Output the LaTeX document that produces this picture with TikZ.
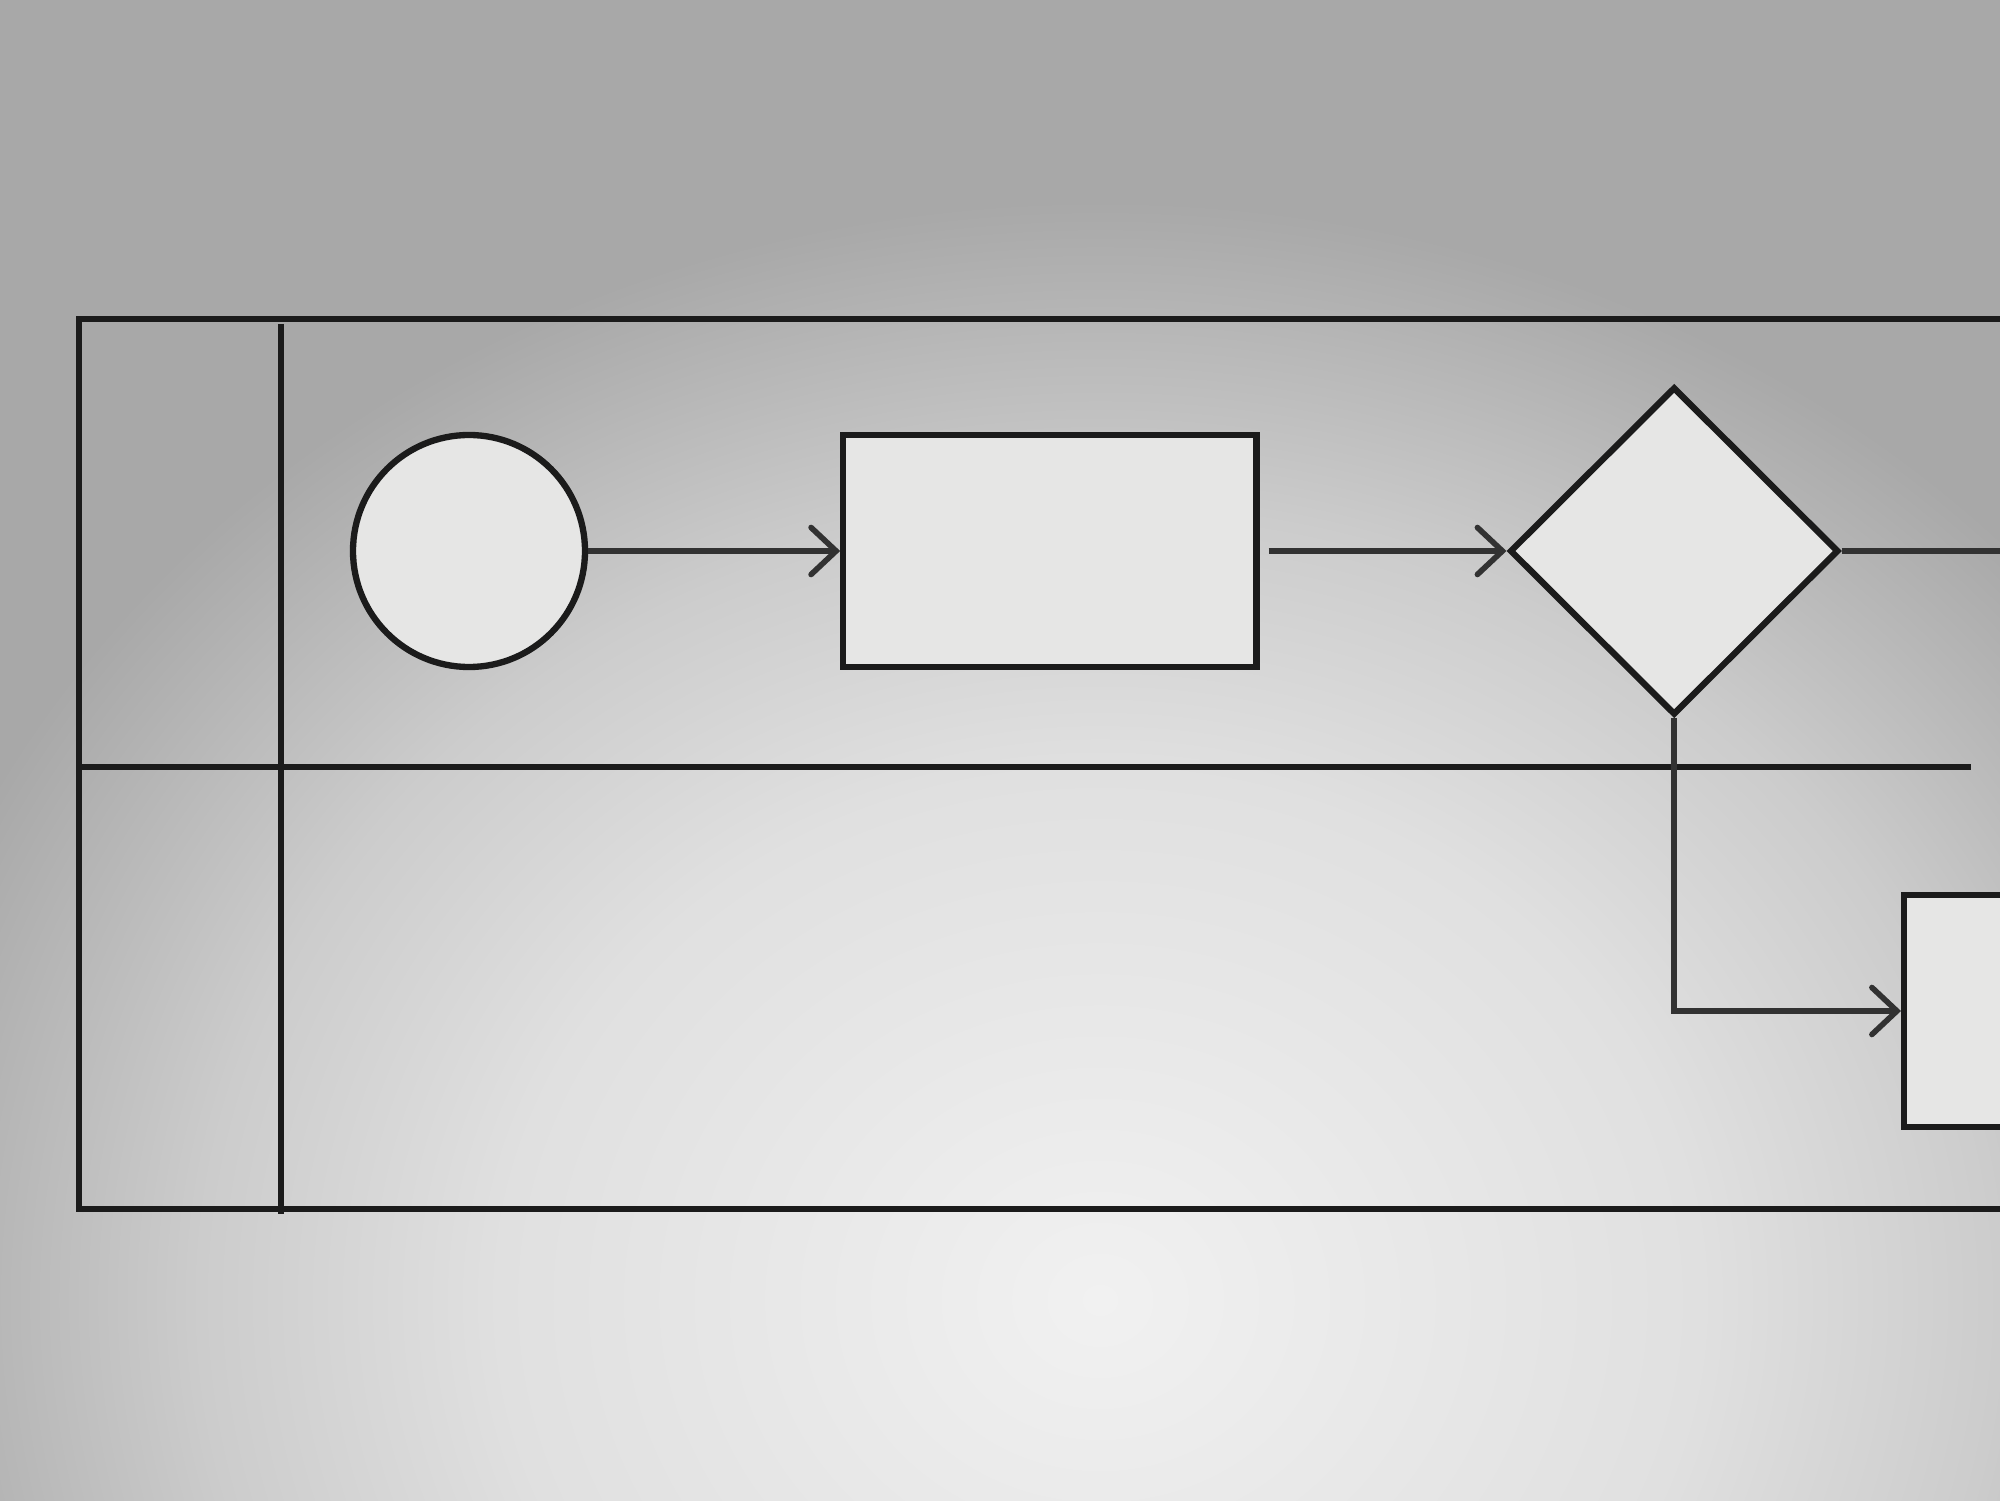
\documentclass[tikz,border=0pt]{standalone}
\usepackage{tikz}
\usetikzlibrary{positioning,arrows.meta,shapes.geometric}
\definecolor{ink}{HTML}{1B1B1B}
\definecolor{paper}{HTML}{E6E6E5}
\definecolor{bgin}{HTML}{F1F1F1}
\definecolor{bgmid}{HTML}{E0E0E0}
\definecolor{bgsoft}{HTML}{CCCCCC}
\definecolor{bgout}{HTML}{A8A8A8}
\pgfdeclareradialshading{glow}{\pgfpoint{0bp}{0bp}}{color(0bp)=(bgin);
  color(12bp)=(bgmid); color(18bp)=(bgsoft); color(25bp)=(bgout); color(50bp)=(bgout)}

\begin{document}
\begin{tikzpicture}[
  node distance=2.5cm,
  every node/.style={draw=ink,fill=paper,line width=1.8pt,inner sep=0pt},
  start/.style={shape=circle,minimum size=2.32cm},
  task/.style={shape=rectangle,minimum width=4.13cm,minimum height=2.32cm},
  gate/.style={shape=diamond,minimum width=3.29cm,minimum height=3.28cm},
  lane/.style={draw=ink,line width=1.9pt},
  flow/.style={draw=ink!90,line width=1.6pt,
    -{Straight Barb[length=2.5mm,width=4.7mm,line cap=round]}}
]
\clip (0,0) rectangle (20,15);
% background
\fill[bgout] (0,0) rectangle (20,15);
\shade[shading=glow] (11,2) ellipse (12.5cm and 11cm);

% pool and lanes
\draw[lane] (20.2,11.81) -- (0.79,11.81) -- (0.79,2.91) -- (20.2,2.91);
\draw[lane] (2.81,11.76) -- (2.81,2.86);
\draw[lane] (0.79,7.33) -- (19.71,7.33);

% flow
\node[start] (begin) at (4.69,9.49) {};
\node[task, right=2.52cm of begin] (work) {};
\node[gate, right=2.47cm of work] (check) {};
\node[task, anchor=west] (review) at (19.01,4.89) {};
\coordinate (out) at (20.3,9.49);

\draw[flow] (begin) -- (work);
\draw[flow] (work.east) ++(0.09,0) -- (check.west);
\draw[draw=ink!90,line width=1.6pt] (check.east) -- (out);
\draw[flow] (check.south) |- (review.west);
\end{tikzpicture}
\end{document}
